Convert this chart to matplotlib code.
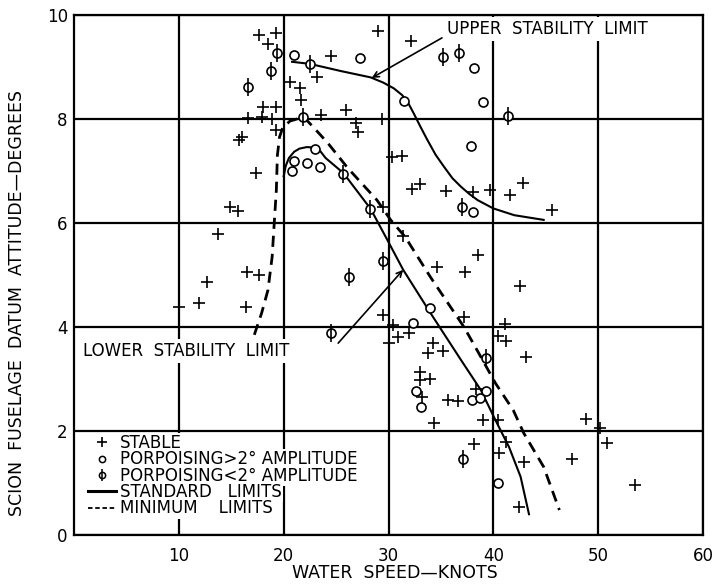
import matplotlib
matplotlib.use('Agg')
import matplotlib.pyplot as plt
from matplotlib.lines import Line2D
from matplotlib.legend_handler import HandlerTuple

# water speed (knots) / datum attitude (degrees)
stable_speed = [17.6, 19.3, 18.5, 24.5, 29.0, 32.1,
                20.6, 21.6, 23.2, 21.7, 18.0, 19.3, 25.9,
                16.6, 17.9, 18.9, 23.6, 29.4, 26.9, 27.1, 19.3,
                16.0, 15.7, 17.4, 14.9, 15.6, 13.7,
                30.3, 31.3, 32.2, 33.0, 35.5, 38.1, 39.7, 41.6, 42.8, 45.6, 29.5,
                31.4, 34.6, 38.5, 37.3, 42.5,
                16.5, 17.6, 12.7, 11.9, 10.0, 16.4,
                29.5, 30.4, 30.0, 30.9, 32.0, 34.2, 33.8, 35.2,
                37.2, 41.1, 40.4, 41.2, 43.1,
                33.0, 33.0, 34.0, 33.2, 35.7, 36.6, 34.3, 38.3, 39.0, 40.4,
                38.2, 40.5, 41.2, 42.9, 42.4,
                48.8, 50.2, 50.8, 47.5, 53.5]
stable_attitude = [9.62, 9.65, 9.44, 9.21, 9.70, 9.50,
                   8.72, 8.60, 8.80, 8.37, 8.23, 8.23, 8.17,
                   8.02, 8.04, 8.00, 8.08, 8.00, 7.92, 7.75, 7.79,
                   7.65, 7.60, 6.96, 6.31, 6.23, 5.78,
                   7.27, 7.29, 6.65, 6.75, 6.62, 6.60, 6.63, 6.54, 6.77, 6.25, 6.30,
                   5.75, 5.15, 5.38, 5.06, 4.79,
                   5.06, 5.00, 4.86, 4.46, 4.38, 4.38,
                   4.23, 4.04, 3.69, 3.81, 3.88, 3.69, 3.50, 3.54,
                   4.19, 4.06, 3.83, 3.73, 3.42,
                   3.13, 2.98, 3.00, 2.65, 2.60, 2.58, 2.15, 2.81, 2.21, 2.21,
                   1.75, 1.57, 1.79, 1.40, 0.54,
                   2.23, 2.06, 1.77, 1.46, 0.96]

# porpoising > 2 deg amplitude
big_speed = [21.0, 27.3, 38.2, 31.5, 39.0, 37.9, 38.1,
             23.0, 21.0, 20.8, 22.2, 23.5,
             34.0, 32.3, 32.6, 33.1, 38.0, 38.7, 39.3, 40.4]
big_attitude = [9.23, 9.17, 8.98, 8.35, 8.33, 7.48, 6.21,
                7.42, 7.20, 7.00, 7.16, 7.07,
                4.37, 4.07, 2.77, 2.46, 2.60, 2.64, 2.77, 1.00]

# porpoising < 2 deg amplitude
small_speed = [19.4, 22.5, 35.2, 36.7, 41.4, 18.8, 16.6, 21.8,
               25.7, 28.2, 37.0, 29.5, 26.2, 24.5, 39.3, 37.1]
small_attitude = [9.27, 9.06, 9.19, 9.27, 8.06, 8.93, 8.61, 8.03,
                  6.94, 6.27, 6.30, 5.27, 4.96, 3.88, 3.40, 1.46]

# standard limits
upper_speed = [20.8, 22.5, 25.5, 28.3, 29.5, 30.5, 31.3, 31.9, 32.4, 33.05, 33.7,
               34.5, 35.3, 36.1, 36.9, 37.7, 38.5, 40.0, 42.0, 44.8]
upper_attitude = [9.10, 9.06, 8.92, 8.80, 8.70, 8.59, 8.46, 8.30, 8.11, 7.85, 7.60,
                  7.31, 7.08, 6.86, 6.70, 6.56, 6.44, 6.28, 6.15, 6.06]

lower_speed = [20.0, 20.2, 20.5, 21.0, 21.5, 22.2, 23.0, 23.5, 24.0, 25.7, 28.3,
               29.9, 31.4, 34.0, 36.9, 38.8, 40.2, 41.5, 42.6, 43.4]
lower_attitude = [6.90, 7.10, 7.25, 7.37, 7.43, 7.46, 7.45, 7.38, 7.25, 6.96, 6.27,
                  5.67, 5.10, 4.27, 3.37, 2.79, 2.21, 1.69, 1.12, 0.40]

# minimum limits
min_speed = [17.2, 17.9, 18.5, 18.9, 19.1, 19.3, 19.4, 19.6, 19.9, 20.6, 21.9, 22.8,
             24.2, 26.1, 28.9, 30.2, 31.6, 34.0, 37.2, 38.6, 40.2, 41.9, 42.9, 44.8, 46.3]
min_attitude = [3.85, 4.27, 4.71, 5.35, 6.00, 6.63, 7.30, 7.65, 7.83, 7.96, 8.04, 7.85,
                7.54, 7.06, 6.44, 6.06, 5.73, 4.96, 4.00, 3.50, 2.92, 2.40, 1.96, 1.31, 0.48]

x_ticks = [10, 20, 30, 40, 50, 60]
y_ticks = [0, 2, 4, 6, 8, 10]

plt.rcParams['font.family'] = 'DejaVu Sans'
fig = plt.figure(figsize=(7.22, 5.88), dpi=100)
ax = fig.add_axes([0.1025, 0.0901, 0.8712, 0.8844])

ax.plot(upper_speed, upper_attitude, color='black', lw=1.5, zorder=3)
ax.plot(lower_speed, lower_attitude, color='black', lw=1.5, zorder=3)
ax.plot(min_speed, min_attitude, color='black', lw=2.0, ls=(0, (4, 2.5)), zorder=3)

ax.plot(stable_speed, stable_attitude, ls='none', marker='+', ms=8, mew=1.2, color='black', zorder=4)
ax.plot(big_speed, big_attitude, ls='none', marker='o', ms=6.5, mew=1.2, mfc='white', color='black', zorder=4)
ax.plot(small_speed, small_attitude, ls='none', marker='o', ms=6.5, mew=1.2, mfc='white', color='black', zorder=4)
ax.plot(small_speed, small_attitude, ls='none', marker='|', ms=13, mew=1.2, color='black', zorder=4)

ax.set_xlim(0, 60)
ax.set_ylim(0, 10)
ax.set_xticks(x_ticks)
ax.set_yticks(y_ticks)
ax.grid(True, color='black', lw=1.6)
ax.tick_params(length=0, labelsize=12)
ax.tick_params(axis='x', pad=8.5)
ax.tick_params(axis='y', pad=4.5)
for s in ax.spines.values():
    s.set_linewidth(1.6)

# labels with arrows
ax.text(45.2, 9.73, 'UPPER  STABILITY  LIMIT', ha='center', va='center', fontsize=12,
        bbox=dict(fc='white', ec='none', pad=2), zorder=3.5)
ax.annotate('', xy=(28.4, 8.79), xytext=(35.1, 9.56),
            arrowprops=dict(arrowstyle='->', color='black', lw=1.2, shrinkA=0, shrinkB=0))
ax.text(0.9, 3.54, 'LOWER  STABILITY  LIMIT', ha='left', va='center', fontsize=12,
        bbox=dict(fc='white', ec='none', pad=2), zorder=3.5)
ax.annotate('', xy=(31.4, 5.1), xytext=(25.2, 3.69),
            arrowprops=dict(arrowstyle='->', color='black', lw=1.2, shrinkA=0, shrinkB=0))

# legend
h_stable = Line2D([], [], ls='none', marker='+', ms=7, mew=1.2, color='black')
h_big = Line2D([], [], ls='none', marker='o', ms=4.5, mew=1.1, mfc='none', color='black')
h_small = (Line2D([], [], ls='none', marker='o', ms=4.5, mew=1.1, mfc='none', color='black'),
           Line2D([], [], ls='none', marker='|', ms=9, mew=1.1, color='black'))
h_std = Line2D([], [], color='black', lw=2.2)
h_min = Line2D([], [], color='black', lw=1.3, ls=(0, (2.5, 1.5)))
labels = ['STABLE', 'PORPOISING>2\u00b0 AMPLITUDE', 'PORPOISING<2\u00b0 AMPLITUDE',
          'STANDARD   LIMITS', 'MINIMUM    LIMITS']
leg = ax.legend([h_stable, h_big, h_small, h_std, h_min], labels,
                loc='upper left', bbox_to_anchor=(0.022, 0.194), frameon=False,
                fontsize=12, handlelength=1.7, handletextpad=0.25, labelspacing=-0.1,
                borderpad=0, borderaxespad=0,
                handler_map={tuple: HandlerTuple(ndivide=1)})
for t in leg.get_texts():
    t.set_bbox(dict(fc='white', ec='none', pad=1))

fig.text(0.024, 0.485, 'SCION  FUSELAGE  DATUM  ATTITUDE\u2014DEGREES', rotation=90,
         ha='center', va='center', fontsize=12.5)
fig.text(0.547, 0.0255, 'WATER  SPEED\u2014KNOTS', ha='center', va='center', fontsize=12.5)

fig.savefig('out.png', dpi=100)
